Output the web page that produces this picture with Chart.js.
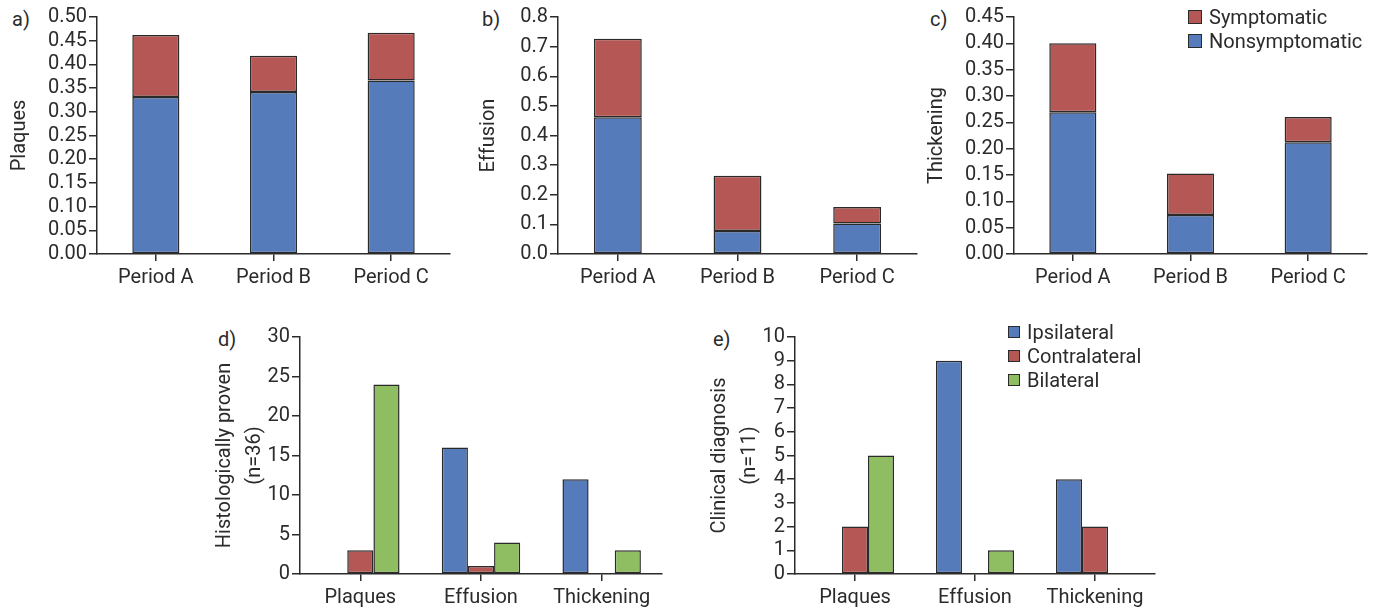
<!DOCTYPE html>
<html>
<head>
<meta charset="utf-8">
<script src="https://cdn.jsdelivr.net/npm/chart.js@4.4.1/dist/chart.umd.min.js"></script>
<style>
    body { margin: 0; background: #fff; width: 1384px; height: 610px; position: relative; overflow: hidden; font-family: Roboto, sans-serif; color: #2b2b2b; }
    canvas { position: absolute; }
    .tag { position: absolute; font-size: 20px; line-height: 20px; }
    .legend { position: absolute; font-size: 20px; }
    .legend .item { display: flex; align-items: center; height: 24px; white-space: nowrap; }
    .legend .sw { box-sizing: border-box; border: 1.5px solid #2a2a2a; margin-right: 7px; }
</style>
</head>
<body>
<div class="tag" style="left:12px;top:9px">a)</div>
<div class="tag" style="left:482px;top:9px">b)</div>
<div class="tag" style="left:930px;top:9px">c)</div>
<div class="tag" style="left:218px;top:329px">d)</div>
<div class="tag" style="left:713px;top:329px">e)</div>

<canvas id="chart-a" width="460" height="290" style="left:0;top:0"></canvas>
<canvas id="chart-b" width="460" height="290" style="left:465px;top:0"></canvas>
<canvas id="chart-c" width="459" height="290" style="left:925px;top:0"></canvas>
<canvas id="chart-d" width="470" height="290" style="left:205px;top:320px"></canvas>
<canvas id="chart-e" width="470" height="290" style="left:700px;top:320px"></canvas>

<div class="legend" id="legend-c" style="left:1188px;top:5px"></div>
<div class="legend" id="legend-e" style="left:1008px;top:320px"></div>

<script>
// Data
const periods = ['Period A', 'Period B', 'Period C'];
const plaquesNonsym = [0.331, 0.342, 0.366];
const plaquesSym = [0.131, 0.076, 0.101];
const effusionNonsym = [0.462, 0.078, 0.103];
const effusionSym = [0.265, 0.186, 0.056];
const thickeningNonsym = [0.269, 0.074, 0.212];
const thickeningSym = [0.131, 0.079, 0.048];

const sites = ['Plaques', 'Effusion', 'Thickening'];
const histIpsi = [0, 16, 12];
const histContra = [3, 1, 0];
const histBilat = [24, 4, 3];
const clinIpsi = [0, 9, 4];
const clinContra = [2, 0, 2];
const clinBilat = [5, 1, 0];

const FONT = 'Roboto, sans-serif';
const INK = '#2b2b2b';
const BLUE = '#557bbb';
const RED = '#b55755';
const GREEN = '#8fbd61';

function bars(label, data, color) {
    return {
        label: label,
        data: data,
        backgroundColor: color,
        borderColor: '#2a2a2a',
        borderWidth: 1.5,
        borderSkipped: false
    };
}

function buildChart(id, o) {
    const ctx = document.getElementById(id).getContext('2d');
    return new Chart(ctx, {
        type: 'bar',
        data: { labels: o.labels, datasets: o.datasets },
        options: {
            responsive: false,
            animation: false,
            layout: { padding: { left: 0, top: 17, right: o.padRight, bottom: 0 } },
            datasets: { bar: { categoryPercentage: o.catPct, barPercentage: o.barPct } },
            plugins: { legend: { display: false }, tooltip: { enabled: false } },
            scales: {
                x: {
                    stacked: o.stacked,
                    afterFit: s => { s.height = o.xHeight; },
                    grid: { offset: false, drawOnChartArea: false, tickLength: 7, color: INK, lineWidth: 1.5 },
                    border: { color: INK, width: 1.5 },
                    ticks: { color: INK, padding: 5, maxRotation: 0, font: { family: FONT, size: 20 } }
                },
                y: {
                    stacked: o.stacked,
                    min: 0,
                    max: o.yMax,
                    afterFit: s => { s.width = o.yWidth; },
                    grid: { drawOnChartArea: false, tickLength: 8, color: INK, lineWidth: 1.5 },
                    border: { color: INK, width: 1.5 },
                    ticks: {
                        stepSize: o.yStep,
                        autoSkip: false,
                        padding: 2,
                        color: INK,
                        font: { family: FONT, size: 20, lineHeight: 1 },
                        callback: v => Number(v).toFixed(o.decimals)
                    },
                    title: {
                        display: true,
                        text: o.title,
                        color: INK,
                        padding: { top: o.titlePad, bottom: 0 },
                        font: { family: FONT, size: 20, lineHeight: o.titleLH }
                    }
                }
            }
        }
    });
}

function buildLegend(id, items, size) {
    const el = document.getElementById(id);
    items.forEach(item => {
        el.insertAdjacentHTML('beforeend',
            `<div class="item"><span class="sw" style="width:${size}px;height:${size}px;background:${item[1]}"></span>${item[0]}</div>`);
    });
}

// Top row: stacked bars
buildChart('chart-a', {
    labels: periods, stacked: true, catPct: 1, barPct: 0.4,
    datasets: [bars('Nonsymptomatic', plaquesNonsym, BLUE), bars('Symptomatic', plaquesSym, RED)],
    yMax: 0.5, yStep: 0.05, decimals: 2, title: 'Plaques', titlePad: 8, titleLH: 1.2,
    yWidth: 97, padRight: 10, xHeight: 36
});
buildChart('chart-b', {
    labels: periods, stacked: true, catPct: 1, barPct: 0.4,
    datasets: [bars('Nonsymptomatic', effusionNonsym, BLUE), bars('Symptomatic', effusionSym, RED)],
    yMax: 0.8, yStep: 0.1, decimals: 1, title: 'Effusion', titlePad: 12, titleLH: 1.2,
    yWidth: 93, padRight: 8, xHeight: 36
});
buildChart('chart-c', {
    labels: periods, stacked: true, catPct: 1, barPct: 0.4,
    datasets: [bars('Nonsymptomatic', thickeningNonsym, BLUE), bars('Symptomatic', thickeningSym, RED)],
    yMax: 0.45, yStep: 0.05, decimals: 2, title: 'Thickening', titlePad: 0, titleLH: 1.2,
    yWidth: 89, padRight: 17, xHeight: 36
});

// Bottom row: grouped bars
buildChart('chart-d', {
    labels: sites, stacked: false, catPct: 0.65, barPct: 1,
    datasets: [bars('Ipsilateral', histIpsi, BLUE), bars('Contralateral', histContra, RED), bars('Bilateral', histBilat, GREEN)],
    yMax: 30, yStep: 5, decimals: 0, title: ['Histologically proven', '(n=36)'], titlePad: 5, titleLH: 1.5,
    yWidth: 95, padRight: 13, xHeight: 36
});
buildChart('chart-e', {
    labels: sites, stacked: false, catPct: 0.65, barPct: 1,
    datasets: [bars('Ipsilateral', clinIpsi, BLUE), bars('Contralateral', clinContra, RED), bars('Bilateral', clinBilat, GREEN)],
    yMax: 10, yStep: 1, decimals: 0, title: ['Clinical diagnosis', '(n=11)'], titlePad: 5, titleLH: 1.5,
    yWidth: 95, padRight: 15, xHeight: 36
});

buildLegend('legend-c', [['Symptomatic', RED], ['Nonsymptomatic', BLUE]], 14);
buildLegend('legend-e', [['Ipsilateral', BLUE], ['Contralateral', RED], ['Bilateral', GREEN]], 12);
</script>
</body>
</html>
